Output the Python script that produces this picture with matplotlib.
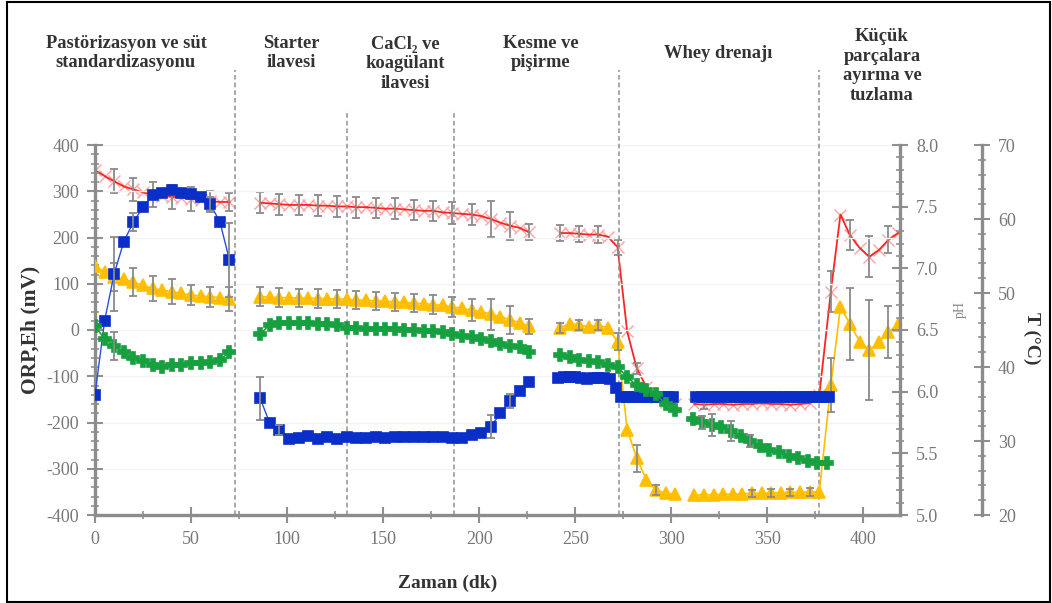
import matplotlib
matplotlib.use('Agg')
import matplotlib.pyplot as plt
from matplotlib.ticker import MultipleLocator, FormatStrFormatter
from matplotlib.patches import Rectangle

plt.rcParams['font.family'] = ['Liberation Serif', 'DejaVu Serif']
plt.rcParams['axes.unicode_minus'] = False

# zaman (dk) - each process step is a separate segment
t1 = list(range(0, 71, 5))
t2 = list(range(86, 227, 5))
t3 = list(range(242, 303, 5))
t45 = list(range(312, 378, 5)) + [383, 388, 393, 398, 403, 408, 413, 418]
t4_green = list(range(311, 382, 5))
t3_blue = [241, 244, 247, 250, 253, 256, 259, 262, 265, 268, 271, 274, 277, 280,
           283, 286, 289, 292, 295, 298, 301]
t4_blue = [313, 316, 319, 322, 325, 328, 331, 334, 337, 340, 343, 346, 349, 352,
           355, 358, 361, 364, 367, 370, 373, 376, 379, 382]

# ORP (mV), blue squares
orp1 = [-140, 20, 122, 191, 234, 265, 292, 297, 303, 296, 293, 288, 272, 234, 151]
orp1_err = [0, 0, 80, 0, 20, 0, 0, 0, 0, 0, 0, 0, 15, 0, 80]
orp2 = [-148, -202, -216, -236, -233, -229, -236, -232, -236, -232, -234, -233, -232, -233,
        -231, -231, -231, -231, -232, -232, -233, -234, -227, -223, -209, -180, -154, -131, -113]
orp2_err = [47, 0, 10, 0, 0, 0, 0, 0, 0, 0, 0, 0, 0, 0, 0, 0, 0, 0, 0, 0, 0, 0, 0, 0,
            25, 0, 15, 0, 0]
orp3 = [-104, -102, -101, -102, -104, -105, -104, -103, -104, -106, -126, -144, -144, -145,
        -144, -144, -145, -144, -144, -144, -144]
orp4 = [-144, -144, -145, -144, -144, -144, -145, -144, -144, -144, -144, -145, -144, -144,
        -144, -144, -145, -144, -144, -144, -144, -144, -145, -144]

# Eh (mV), yellow triangles
eh1 = [138, 126, 114, 110, 103, 97, 90, 86, 83, 79, 76, 73, 72, 70, 67]
eh1_err = [0, 0, 30, 0, 30, 0, 27, 0, 27, 0, 22, 0, 22, 0, 25]
eh2 = [72, 71, 70, 70, 69, 69, 68, 68, 67, 66, 65, 64, 63, 62, 61, 60, 58, 57, 55, 53,
       50, 47, 43, 40, 34, 29, 22, 16, 8]
eh2_err = [20, 0, 20, 0, 20, 0, 20, 0, 20, 0, 20, 0, 20, 0, 20, 0, 20, 0, 20, 0,
           22, 0, 23, 0, 34, 0, 30, 0, 16]
eh3 = [4, 14, 11, 7, 11, 4, -25, -216, -277, -324, -346, -353, -355]
eh3_err = [11, 0, 11, 0, 11, 0, 18, 0, 29, 0, 10, 0, 0]
eh45 = [-357, -356, -356, -355, -355, -354, -353, -353, -352, -352, -351, -351, -350, -350,
        -119, 50, 13, -25, -43, -27, -4, 11]
eh45_err = [0, 0, 0, 0, 0, 0, 8, 0, 8, 0, 8, 0, 8, 0, 58, 0, 77, 0, 108, 0, 56, 0]

# pH, green
ph1 = [6.53, 6.43, 6.37, 6.32, 6.27, 6.25, 6.22, 6.20, 6.22, 6.22, 6.23, 6.23, 6.24, 6.26, 6.32]
ph1_err = [0, 0, 0.11, 0, 0, 0, 0, 0, 0, 0, 0, 0, 0, 0, 0]
ph2 = [6.47, 6.54, 6.56, 6.56, 6.56, 6.56, 6.55, 6.55, 6.54, 6.52, 6.52, 6.51, 6.51, 6.51,
       6.51, 6.50, 6.50, 6.49, 6.49, 6.48, 6.47, 6.45, 6.44, 6.43, 6.41, 6.39, 6.37, 6.36, 6.32]
ph3 = [6.30, 6.28, 6.26, 6.25, 6.24, 6.22, 6.20, 6.12, 6.05, 6.01, 5.98, 5.90, 5.85]
ph4 = [5.78, 5.75, 5.73, 5.71, 5.68, 5.64, 5.60, 5.56, 5.53, 5.51, 5.48, 5.46, 5.44, 5.42, 5.42]
ph4_err = [0, 0.05, 0.09, 0, 0.08, 0, 0.05, 0, 0, 0, 0, 0, 0, 0, 0]

# T (°C), red crosses
temp1 = [66.6, 65.8, 65.1, 64.4, 64.0, 63.6, 63.3, 63.1, 63.0, 62.9, 62.7, 62.6, 62.4, 62.3, 62.3]
temp1_err = [0, 0, 1.6, 0, 1.6, 0, 1.7, 0, 1.6, 0, 1.6, 0, 1.4, 0, 1.25]
temp2 = [62.2, 62.1, 62.0, 61.9, 61.9, 61.9, 61.8, 61.8, 61.7, 61.7, 61.6, 61.6, 61.5, 61.4,
         61.4, 61.3, 61.2, 61.1, 61.1, 60.9, 60.8, 60.7, 60.6, 60.4, 60.0, 59.5, 59.1, 58.8, 58.2]
temp2_err = [1.4, 0, 1.4, 0, 1.4, 0, 1.4, 0, 1.4, 0, 1.4, 0, 1.4, 0, 1.4, 0, 1.4, 0, 1.4, 0,
             1.45, 0, 1.45, 0, 2.4, 0, 1.9, 0, 1.1]
temp3 = [58.1, 58.1, 58.0, 57.9, 57.9, 57.6, 56.2, 44.8, 39.8, 37.3, 35.9, 35.3, 35.0]
temp3_err = [1.1, 0, 1.1, 0, 1.1, 0, 1.0, 0, 0.8, 0, 0, 0, 0]
temp45 = [35.0, 34.9, 35.0, 35.0, 34.9, 35.0, 35.0, 35.1, 35.0, 35.0, 34.9, 35.0, 35.1, 36.2,
          50.2, 60.6, 57.8, 56.1, 54.9, 55.8, 57.2, 58.1]
temp45_err = [0, 0.6, 0, 0, 0, 0, 0, 0, 0, 0, 0, 0, 0, 0, 2.8, 0, 2.0, 0, 2.8, 0, 1.8, 0]

phases = ['Pastörizasyon ve süt\nstandardizasyonu', 'Starter\nilavesi',
          'CaCl\u2082 ve\nkoagülant\nilavesi', 'Kesme ve\npişirme', 'Whey drenajı',
          'Küçük\nparçalara\nayırma ve\ntuzlama']
phase_ends = [73, 131, 187, 273, 377]

W, H = 1052, 603
GRAY = '#8a8a8a'
TXT = '#333333'


def draw(ax, t, y, err, color, mcolor, marker, ms, z, lw=1.2, mew=1.2, line_on_top=False):
    # red line shows through its crosses, other lines stay under the markers
    lz = z + 0.2 if line_on_top else z - 0.2
    ax.plot(t, y, ls='none', marker=marker, ms=ms, mfc=mcolor, mec=mcolor, mew=mew, zorder=z)
    ax.plot(t, y, color=color, lw=lw, zorder=lz)
    if err is None:
        return
    idx = [i for i, e in enumerate(err) if e > 0]
    if idx:
        ax.errorbar([t[i] for i in idx], [y[i] for i in idx], yerr=[err[i] for i in idx],
                    fmt='none', ecolor=GRAY, elinewidth=1.3, capsize=3, capthick=1.3,
                    zorder=z + 0.5)


def style_axis(ax, which_axis):
    ax.tick_params(axis=which_axis, which='major', direction='inout', length=11, width=1.5,
                   color='#909090', labelcolor='#777777', labelsize=13, pad=6)
    ax.tick_params(axis=which_axis, which='minor', direction='inout', length=6, width=1.2,
                   color='#909090')


fig = plt.figure(figsize=(W / 100, H / 100), dpi=100)
ax = fig.add_axes([95 / W, 1 - 515 / H, 805 / W, 370 / H])
axT = ax.twinx()
axP = ax.twinx()

axT.set_zorder(1)
ax.set_zorder(2)
axP.set_zorder(3)
for a in (ax, axT, axP):
    a.patch.set_visible(False)
    for s in a.spines.values():
        s.set_visible(False)
        s.set_color('#8c8c8c')
        s.set_linewidth(2.4)

ax.set_xlim(0, 419)
ax.set_ylim(-400, 400)
axP.set_ylim(5.0, 8.0)
axT.set_ylim(20, 70)

ax.spines['left'].set_visible(True)
ax.spines['bottom'].set_visible(True)
axP.spines['right'].set_visible(True)
axT.spines['right'].set_visible(True)
axT.spines['right'].set_position(('axes', (982 - 95) / 805))

ax.xaxis.set_major_locator(MultipleLocator(50))
ax.xaxis.set_minor_locator(MultipleLocator(25))
ax.yaxis.set_major_locator(MultipleLocator(100))
ax.yaxis.set_minor_locator(MultipleLocator(20))
axP.yaxis.set_major_locator(MultipleLocator(0.5))
axP.yaxis.set_minor_locator(MultipleLocator(0.1))
axP.yaxis.set_major_formatter(FormatStrFormatter('%.1f'))
axT.yaxis.set_major_locator(MultipleLocator(10))
axT.yaxis.set_minor_locator(MultipleLocator(2))
style_axis(ax, 'both')
style_axis(axP, 'y')
style_axis(axT, 'y')
ax.grid(axis='y', color='#f3f3f3', lw=1)
ax.set_axisbelow(True)

# T (red)
for t, y, e in [(t1, temp1, temp1_err), (t2, temp2, temp2_err), (t3, temp3, temp3_err),
                (t45, temp45, temp45_err)]:
    draw(axT, t, y, e, '#ff2424', '#ffa3a3', 'x', 8, 3, lw=1.3, mew=1.0, line_on_top=True)

# Eh (yellow) and ORP (blue)
for t, y, e in [(t1, eh1, eh1_err), (t2, eh2, eh2_err), (t3, eh3, eh3_err),
                (t45, eh45, eh45_err)]:
    draw(ax, t, y, e, '#ffbf00', '#ffbf00', '^', 8.5, 3)
for t, y, e in [(t1, orp1, orp1_err), (t2, orp2, orp2_err), (t3_blue, orp3, None),
                (t4_blue, orp4, None)]:
    draw(ax, t, y, e, '#2a50d8', '#0a2fc8', 's', 7.3, 5, lw=1.0)

# pH (green)
for t, y, e in [(t1, ph1, ph1_err), (t2, ph2, None), (t3, ph3, None), (t4_green, ph4, ph4_err)]:
    draw(axP, t, y, e, '#16a040', '#16a040', 'P', 8.5, 3)

# process step boundaries
tops = [562, 476, 476, 562, 562]
for x, top in zip(phase_ends, tops):
    ax.plot([x, x], [-400, top], color='#8f8f8f', lw=1.1, ls=(0, (3, 2)),
            clip_on=False, zorder=1)

label_pos = [(126, 53), (291, 53), (405, 64), (541, 53), (718, 53), (882, 66)]
for txt, (px, py) in zip(phases, label_pos):
    fig.text(px / W, 1 - py / H, txt, ha='center', va='center', fontsize=13.3,
             fontweight='bold', color=TXT, linespacing=1.2)

fig.text(30 / W, 1 - 330 / H, 'ORP,Eh (mV)', rotation=90, ha='center', va='center',
         fontsize=15.5, fontweight='bold', color=TXT)
fig.text(448 / W, 1 - 583 / H, 'Zaman (dk)', ha='center', va='center',
         fontsize=14, fontweight='bold', color=TXT)
fig.text(960 / W, 1 - 310 / H, 'pH', rotation=90, ha='center', va='center',
         fontsize=10, color='#888888')
fig.text(1032 / W, 1 - 338 / H, 'T (°C)', rotation=270, ha='center', va='center',
         fontsize=14, fontweight='bold', color=TXT)

fig.patches.append(Rectangle((7 / W, 1.5 / H), 1 - 9 / W, 1 - 3 / H, transform=fig.transFigure,
                             fill=False, ec='black', lw=1.5))

fig.savefig('out.png', dpi=100)
